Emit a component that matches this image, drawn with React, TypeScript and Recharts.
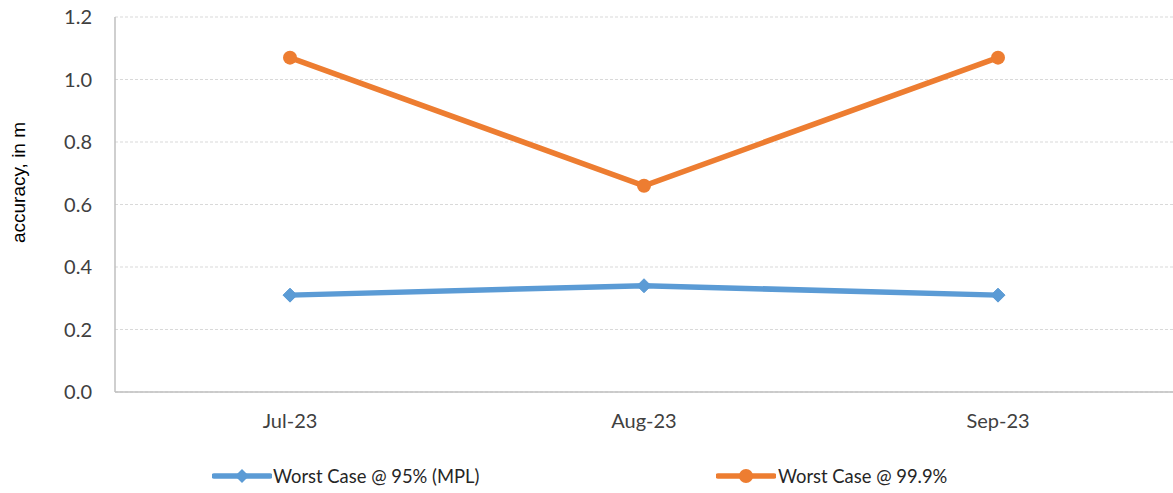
import React from 'react';
import { LineChart, Line, XAxis, YAxis, CartesianGrid, Legend } from 'recharts';

const months = ['Jul-23', 'Aug-23', 'Sep-23'];
const worst95 = [0.31, 0.34, 0.31];
const worst999 = [1.07, 0.66, 1.07];
const yTicks = [0, 0.2, 0.4, 0.6, 0.8, 1.0, 1.2];

const data = months.map((m, i) => ({ month: m, w95: worst95[i], w999: worst999[i] }));

const FONT = 'Lato, "Open Sans", "Liberation Sans", sans-serif';
const BLUE = '#5B9BD5';
const ORANGE = '#ED7D31';

const Diamond = (props: any) => {
  const { cx, cy } = props;
  if (cx == null || cy == null) return null;
  const s = 7;
  return <path d={`M${cx},${cy - s} L${cx + s},${cy} L${cx},${cy + s} L${cx - s},${cy} Z`} fill={BLUE} stroke={BLUE} />;
};

const YLabel = (props: any) => {
  const vb = props.viewBox || {};
  const x = 18;
  const y = (vb.y ?? 17) + (vb.height ?? 375) / 2 - 22;
  return (
    <text x={x} y={y} transform={`rotate(-90, ${x}, ${y})`} textAnchor="middle" dominantBaseline="central"
      fill="#000" fontSize={19} fontFamily='"Liberation Sans", Arial, sans-serif'>
      accuracy, in m
    </text>
  );
};

const LegendContent = () => (
  <div style={{ position: 'relative', height: 41, fontFamily: FONT, fontSize: 18.4, color: '#262626' }}>
    <div style={{ position: 'absolute', left: 212, top: 13, display: 'flex', alignItems: 'center' }}>
      <svg width={60} height={20}>
        <line x1={2} y1={10} x2={58} y2={10} stroke={BLUE} strokeWidth={5.5} strokeLinecap="round" />
        <path d="M30,3 L37,10 L30,17 L23,10 Z" fill={BLUE} />
      </svg>
      <span style={{ marginLeft: 1 }}>Worst Case @ 95% (MPL)</span>
    </div>
    <div style={{ position: 'absolute', left: 716, top: 13, display: 'flex', alignItems: 'center' }}>
      <svg width={60} height={20}>
        <line x1={2} y1={10} x2={58} y2={10} stroke={ORANGE} strokeWidth={5.5} strokeLinecap="round" />
        <circle cx={30} cy={10} r={7} fill={ORANGE} />
      </svg>
      <span style={{ marginLeft: 2 }}>Worst Case @ 99.9%</span>
    </div>
  </div>
);

export default function App() {
  return (
    <div style={{ position: 'absolute', left: 0, top: 0, background: '#fff' }}>
      <LineChart width={1173} height={493} data={data} margin={{ top: 17, right: -2, bottom: 0, left: 0 }}>
        <CartesianGrid vertical={false} stroke="#D9D9D9" strokeDasharray="3 2" />
        <XAxis
          dataKey="month"
          height={60}
          padding={{ left: 175, right: 177 }}
          axisLine={{ stroke: '#BFBFBF', strokeWidth: 1.5 }}
          tickLine={false}
          tickSize={0}
          tickMargin={22}
          tick={{ fill: '#404040', fontSize: 20, fontFamily: FONT }}
        />
        <YAxis
          domain={[0, 1.2]}
          ticks={yTicks}
          width={115}
          axisLine={{ stroke: '#BFBFBF', strokeWidth: 1.5 }}
          tickLine={false}
          tickSize={0}
          tickMargin={23}
          tickFormatter={(v: number) => v.toFixed(1)}
          tick={{ fill: '#404040', fontSize: 20, fontFamily: FONT }}
          label={<YLabel />}
        />
        <Legend verticalAlign="bottom" height={41} content={<LegendContent />} />
        <Line dataKey="w95" name="Worst Case @ 95% (MPL)" stroke={BLUE} strokeWidth={5.5} dot={<Diamond />} isAnimationActive={false} />
        <Line dataKey="w999" name="Worst Case @ 99.9%" stroke={ORANGE} strokeWidth={5.5} dot={{ r: 7, fill: ORANGE, stroke: ORANGE, strokeWidth: 0 }} isAnimationActive={false} />
      </LineChart>
    </div>
  );
}
